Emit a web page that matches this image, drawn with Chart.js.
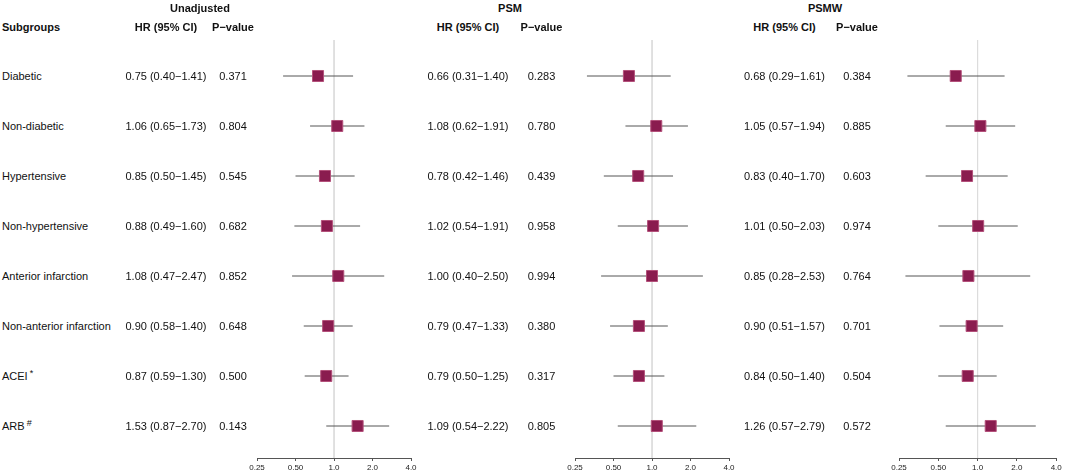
<!DOCTYPE html>
<html>
<head>
<meta charset="utf-8">
<script src="https://cdn.jsdelivr.net/npm/chart.js@4.4.1/dist/chart.umd.min.js"></script>
<style>
  html, body { margin: 0; padding: 0; background: #fff; overflow: hidden; }
  #wrap { position: relative; width: 1065px; height: 474px; font-family: "Liberation Sans", Arial, sans-serif; color: #111; }
  .cv { position: absolute; top: 0; }
  .t { position: absolute; white-space: nowrap; font-size: 11px; line-height: 13px; transform: translateY(-50%); }
  .c { transform: translate(-50%, -50%); }
  .b { font-weight: bold; }
  sup { font-size: 9px; position: relative; top: -3px; vertical-align: top; margin-left: 2px; }
</style>
</head>
<body>
<div id="wrap"></div>
<script>
// ---------- data ----------
const subgroups = ["Diabetic", "Non-diabetic", "Hypertensive", "Non-hypertensive",
  "Anterior infarction", "Non-anterior infarction", "ACEI", "ARB"];
const subgroupMarks = ["", "", "", "", "", "", "*", "#"];

const panelTitles = ["Unadjusted", "PSM", "PSMW"];

const unadjHR = [0.75, 1.06, 0.85, 0.88, 1.08, 0.90, 0.87, 1.53];
const unadjLo = [0.40, 0.65, 0.50, 0.49, 0.47, 0.58, 0.59, 0.87];
const unadjHi = [1.41, 1.73, 1.45, 1.60, 2.47, 1.40, 1.30, 2.70];
const unadjP  = ["0.371", "0.804", "0.545", "0.682", "0.852", "0.648", "0.500", "0.143"];

const psmHR = [0.66, 1.08, 0.78, 1.02, 1.00, 0.79, 0.79, 1.09];
const psmLo = [0.31, 0.62, 0.42, 0.54, 0.40, 0.47, 0.50, 0.54];
const psmHi = [1.40, 1.91, 1.46, 1.91, 2.50, 1.33, 1.25, 2.22];
const psmP  = ["0.283", "0.780", "0.439", "0.958", "0.994", "0.380", "0.317", "0.805"];

const psmwHR = [0.68, 1.05, 0.83, 1.01, 0.85, 0.90, 0.84, 1.26];
const psmwLo = [0.29, 0.57, 0.40, 0.50, 0.28, 0.51, 0.50, 0.57];
const psmwHi = [1.61, 1.94, 1.70, 2.03, 2.53, 1.57, 1.40, 2.79];
const psmwP  = ["0.384", "0.885", "0.603", "0.974", "0.764", "0.701", "0.504", "0.572"];

const tickValues = [0.25, 0.5, 1, 2, 4];
const tickLabels = ["0.25", "0.50", "1.0", "2.0", "4.0"];
const refValue = 1;

// ---------- layout ----------
const W = 1065, H = 474;
const plotTop = 40, plotBottom = 458;
const yMin = -0.72, yMax = 7.64;
const panels = [
  { title: panelTitles[0], hr: unadjHR, lo: unadjLo, hi: unadjHi, p: unadjP,
    left: 257, right: 411, titleX: 200, hrX: 166, pX: 233 },
  { title: panelTitles[1], hr: psmHR, lo: psmLo, hi: psmHi, p: psmP,
    left: 575, right: 729, titleX: 510, hrX: 468, pX: 541.5 },
  { title: panelTitles[2], hr: psmwHR, lo: psmwLo, hi: psmwHi, p: psmwP,
    left: 899, right: 1058, titleX: 825, hrX: 784.5, pX: 857 }
];

const wrap = document.getElementById('wrap');
function addText(txt, x, y, cls, html) {
  const d = document.createElement('div');
  d.className = 't ' + (cls || '');
  if (html) d.innerHTML = txt; else d.textContent = txt;
  d.style.left = x + 'px';
  d.style.top = y + 'px';
  wrap.appendChild(d);
  return d;
}
const fmt = v => v.toFixed(2);

const charts = [];
panels.forEach((pn, k) => {
  const padL = 27, padR = 9;
  const cLeft = pn.left - padL;
  const cWidth = Math.min(pn.right + 19, W) - cLeft;
  const padRight = cLeft + cWidth - pn.right;
  const cv = document.createElement('canvas');
  cv.className = 'cv';
  cv.width = cWidth; cv.height = H;
  cv.style.left = cLeft + 'px';
  cv.style.width = cWidth + 'px';
  cv.style.height = H + 'px';
  wrap.appendChild(cv);

  const markerDs = {
    type: 'scatter',
    data: pn.hr.map((v, i) => ({ x: v, y: i })),
    pointStyle: 'rect',
    pointRadius: 7.8,
    backgroundColor: '#8a1c4f',
    borderColor: '#b4517b',
    borderWidth: 1
  };
  const ciDs = pn.lo.map((l, i) => ({
    type: 'scatter',
    data: [{ x: l, y: i }, { x: pn.hi[i], y: i }],
    showLine: true,
    borderColor: '#555555',
    borderWidth: 1,
    pointRadius: 0
  }));
  const refDs = {
    type: 'scatter',
    data: [{ x: refValue, y: yMin }, { x: refValue, y: yMax }],
    showLine: true,
    borderColor: '#dcdcdc',
    borderWidth: 1,
    pointRadius: 0
  };

  const chart = new Chart(cv, {
    type: 'scatter',
    data: { datasets: [markerDs, ...ciDs, refDs] },
    options: {
      responsive: false,
      animation: false,
      events: [],
      layout: { padding: { left: padL, right: padRight, top: plotTop, bottom: 0 } },
      plugins: { legend: { display: false }, tooltip: { enabled: false } },
      scales: {
        x: {
          type: 'logarithmic',
          min: 0.25, max: 4,
          position: 'bottom',
          afterBuildTicks: s => { s.ticks = tickValues.map(v => ({ value: v })); },
          afterFit: s => { s.height = H - plotBottom; },
          ticks: {
            autoSkip: false,
            maxRotation: 0,
            padding: 2,
            color: '#222',
            font: { family: '"Liberation Sans", Arial, sans-serif', size: 8 },
            callback: (v) => { const i = tickValues.indexOf(v); return i >= 0 ? tickLabels[i] : ''; }
          },
          grid: { display: true, drawOnChartArea: false, drawTicks: true, tickLength: 3, color: '#555' },
          border: { display: true, color: '#555', width: 1 }
        },
        y: {
          type: 'linear', display: false, reverse: true, min: yMin, max: yMax
        }
      }
    }
  });
  charts.push(chart);
});

// ---------- text table, aligned with the chart's row scale ----------
const ys = charts[0].scales.y;
const rowY = i => ys.getPixelForValue(i);

addText('Subgroups', 2, 26.5, 'b');
subgroups.forEach((s, i) => {
  const m = subgroupMarks[i];
  addText(s + (m ? '<sup>' + m + '</sup>' : ''), 2, rowY(i), '', true);
});
panels.forEach(pn => {
  addText(pn.title, pn.titleX, 7.5, 'b c');
  addText('HR (95% CI)', pn.hrX, 26.5, 'b c');
  addText('P\u2212value', pn.pX, 26.5, 'b c');
  pn.hr.forEach((v, i) => {
    addText(fmt(v) + ' (' + fmt(pn.lo[i]) + '\u2212' + fmt(pn.hi[i]) + ')', pn.hrX, rowY(i), 'c');
    addText(pn.p[i], pn.pX, rowY(i), 'c');
  });
});
</script>
</body>
</html>
